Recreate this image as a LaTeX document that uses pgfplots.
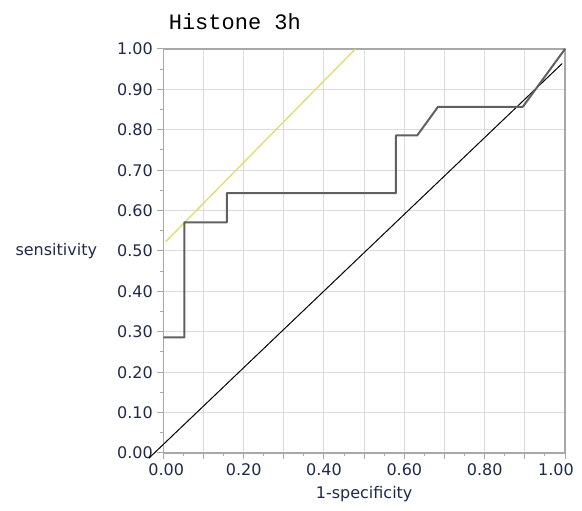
\documentclass[border=0pt]{standalone}
\usepackage{pgfplots}
\pgfplotsset{compat=1.18}
\usepackage{fontspec}
\setmainfont{DejaVu Sans}
\newfontfamily\titlefont{Liberation Mono}
\definecolor{lbl}{HTML}{1F2A48}
\definecolor{gridc}{HTML}{DCDCDC}
\definecolor{axc}{HTML}{A8A8A8}
\definecolor{roc}{HTML}{606060}
\definecolor{yel}{HTML}{E2DA6A}
\begin{document}
\begin{tikzpicture}[x=1pt,y=1pt]
\useasboundingbox (0,0) rectangle (582,511);
\begin{axis}[
  at={(163.3pt,58pt)}, anchor=south west,
  scale only axis, width=401.7pt, height=404pt,
  xmin=0, xmax=1, ymin=0, ymax=1,
  clip=false,
  axis line style={axc, line width=1.2pt},
  grid=major,
  major grid style={gridc, line width=1pt},
  tick align=outside,
  xtick pos=left, ytick pos=left,
  major tick length=6pt, minor tick length=3pt,
  every tick/.style={axc, line width=1pt},
  xtick={0,0.1,0.2,0.3,0.4,0.5,0.6,0.7,0.8,0.9,1},
  xticklabels={\hspace*{6pt}0.00,,0.20,,0.40,,0.60,,0.80,,1.00\hspace*{18pt}},
  ytick={0,0.1,0.2,0.3,0.4,0.5,0.6,0.7,0.8,0.9,1},
  yticklabels={0.00,0.10,0.20,0.30,0.40,0.50,0.60,0.70,0.80,0.90,1.00},
  minor x tick num=1, minor y tick num=1,
  tick label style={font=\fontsize{16}{18}\selectfont, text=lbl},
  xticklabel style={yshift=-1pt},
  yticklabel style={xshift=-1pt},
  xlabel={1-specificity}, ylabel={sensitivity},
  every axis x label/.style={at={(axis description cs:0.5,0)}, anchor=center, yshift=-41pt, font=\fontsize{16}{18}\selectfont, text=lbl},
  every axis y label/.style={at={(axis description cs:0,0.5)}, anchor=center, xshift=-107pt, font=\fontsize{16}{18}\selectfont, text=lbl},
  title={Histone 3h},
  every axis title/.style={at={(axis description cs:0,1)}, anchor=base west, xshift=2pt, yshift=19pt, font=\titlefont\fontsize{22}{24}\selectfont, text=black},
]
\addplot[yel, line width=1.3pt] coordinates {(0.006,0.523) (0.478,1.0)};
\addplot[black, line width=1pt] coordinates {(-0.036,-0.013) (0.993,0.964)};
\addplot[roc, line width=2pt, line join=round] coordinates {
  (0,0.286) (0.0526,0.286) (0.0526,0.571) (0.158,0.571) (0.158,0.643)
  (0.579,0.643) (0.579,0.786) (0.632,0.786) (0.684,0.857) (0.895,0.857) (1,1)};
\end{axis}
\end{tikzpicture}
\end{document}
